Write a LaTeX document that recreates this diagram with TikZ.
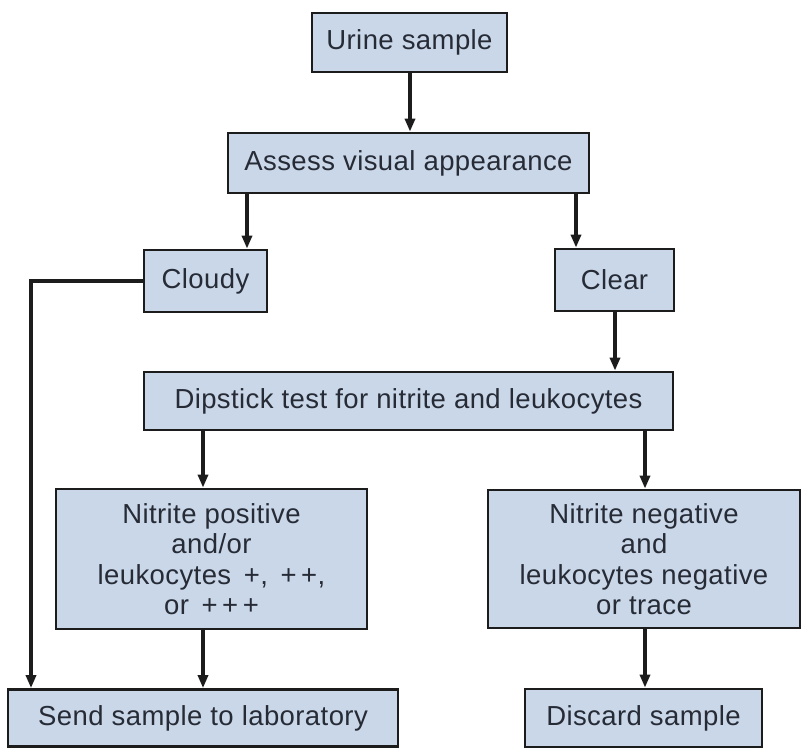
\documentclass[tikz,border=0pt]{standalone}
\usepackage{fontspec}
\setmainfont[LetterSpace=1.5]{Liberation Sans}
\usetikzlibrary{arrows.meta}
\definecolor{boxfill}{HTML}{C9D7E9}
\definecolor{boxline}{HTML}{1C1C1C}
\definecolor{txt}{HTML}{262B35}
\tikzset{
  box/.style={draw=boxline, fill=boxfill, line width=2.8pt, inner sep=0pt,
    text=txt, align=center, font=\fontsize{27.5}{30.5}\selectfont},
  arr/.style={draw=boxline, line width=3.4pt, -{Triangle[length=13pt,width=10pt]}}
}
\begin{document}
\begin{tikzpicture}[x=1pt,y=-1pt]
\useasboundingbox (0,0) rectangle (803,748);
\node[box, minimum width=195pt, minimum height=59pt] (urine) at (409.5,42.5) {Urine sample};
\node[box, minimum width=361pt, minimum height=60pt] (assess) at (408.5,163) {Assess visual appearance};
\node[box, minimum width=123pt, minimum height=62pt] (cloudy) at (205.5,281) {Cloudy};
\node[box, minimum width=119pt, minimum height=62pt] (clear) at (614.5,280) {Clear};
\node[box, minimum width=529pt, minimum height=58pt] (dip) at (408.5,401) {Dipstick test for nitrite and leukocytes};
\node[box, minimum width=311pt, minimum height=140pt] (pos) at (211.5,559) {Nitrite positive\\and/or\\leukocytes \,+,\, +\,+,\\or \,+\,+\,+};
\node[box, minimum width=312pt, minimum height=138pt] (neg) at (644,559) {Nitrite negative\\and\\leukocytes negative\\or trace};
\node[box, minimum width=390pt, minimum height=57pt] (send) at (203,718) {Send sample to laboratory};
\node[box, minimum width=237pt, minimum height=58pt] (discard) at (643.5,718) {Discard sample};
\coordinate (cl) at (31,281);
\draw[arr] (urine.south -| 410,0) -- (assess.north -| 410,0);
\draw[arr] (assess.south -| 247,0) -- (cloudy.north -| 247,0);
\draw[arr] (assess.south -| 576,0) -- (clear.north -| 576,0);
\draw[arr] (clear.south -| 615,0) -- (dip.north -| 615,0);
\draw[arr] (dip.south -| 203,0) -- (pos.north -| 203,0);
\draw[arr] (dip.south -| 645,0) -- (neg.north -| 645,0);
\draw[arr] (pos.south -| 203,0) -- (send.north -| 203,0);
\draw[arr] (neg.south -| 645,0) -- (discard.north -| 645,0);
\draw[arr] (cloudy.west) -- (cl) -- (send.north -| cl);
\end{tikzpicture}
\end{document}
